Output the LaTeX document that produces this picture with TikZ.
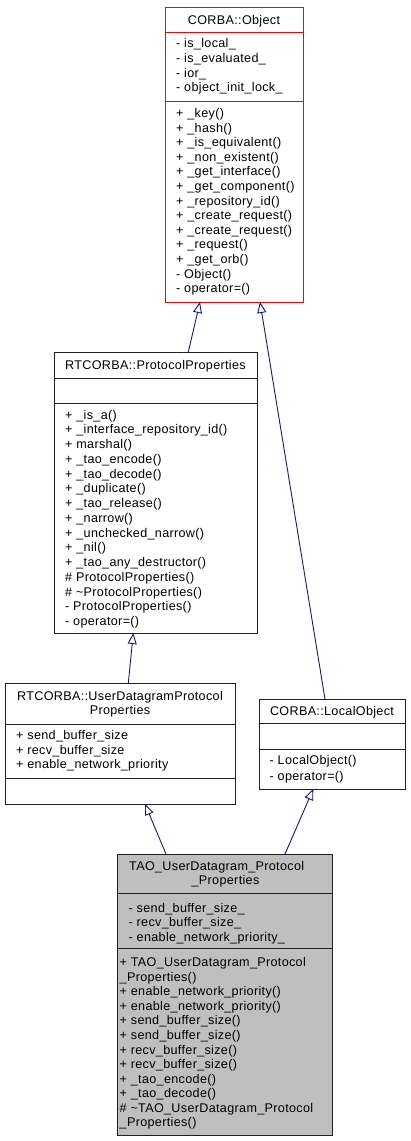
\documentclass[tikz,border=0pt]{standalone}
\usepackage{fontspec}
\setmainfont[LetterSpace=2.6]{Liberation Sans}
\usetikzlibrary{arrows.meta,calc}
\definecolor{edgeblue}{HTML}{191970}
\definecolor{taogray}{HTML}{BFBFBF}
\definecolor{boxline}{HTML}{202020}
\tikzset{
  box/.style={draw=boxline, line width=0.9pt, anchor=north west, inner sep=0pt, outer sep=0pt},
  redbox/.style={box, draw=red},
  txt/.style={anchor=base west, inner sep=0pt, font=\fontsize{12.6}{14.6}\selectfont},
  ttl/.style={anchor=base, inner sep=0pt, font=\fontsize{12.6}{14.6}\selectfont},
  sep/.style={draw=boxline, line width=0.9pt},
  inh/.style={draw=edgeblue, line width=0.9pt, -{Triangle[length=11pt,width=9pt,fill=white]}},
}
\newcommand\mylines[4]{\foreach \lbl [count=\i from 0] in {#4} {\node[txt] at (#1, #2+\i*#3) {\lbl};}}
\begin{document}
\begin{tikzpicture}[x=1pt,y=-1pt]
\fill[white] (0,0) rectangle (411,1141);
\useasboundingbox (0,0) rectangle (411,1141);

% CORBA::Object
\node[redbox, minimum width=138pt, minimum height=295pt] (obj) at (165,7) {};
\draw[sep, draw=red] (165,32) -- (303,32);
\draw[sep, draw=red] (165,101) -- (303,101);
\node[ttl] (objT) at (234,24) {CORBA::Object};
\mylines{176}{47.5}{14.8}{- is\_local\_, - is\_evaluated\_, - ior\_, - object\_init\_lock\_}
\mylines{176}{117.5}{14.6}{+ \_key(), + \_hash(), + \_is\_equivalent(), + \_non\_existent(), + \_get\_interface(), + \_get\_component(), + \_repository\_id(), + \_create\_request(), + \_create\_request(), + \_request(), + \_get\_orb(), - Object(), - operator=()}

% RTCORBA::ProtocolProperties
\node[box, minimum width=203pt, minimum height=281pt] (pp) at (54,352) {};
\draw[sep] (54,378) -- (257,378);
\draw[sep] (54,403) -- (257,403);
\node[ttl] (ppT) at (155.5,369.5) {RTCORBA::ProtocolProperties};
\mylines{65}{419}{14.75}{+ \_is\_a(), + \_interface\_repository\_id(), + marshal(), + \_tao\_encode(), + \_tao\_decode(), + \_duplicate(), + \_tao\_release(), + \_narrow(), + \_unchecked\_narrow(), + \_nil(), + \_tao\_any\_destructor(), \# ProtocolProperties(), \# \textasciitilde ProtocolProperties(), - ProtocolProperties(), - operator=()}

% RTCORBA::UserDatagramProtocolProperties
\node[box, minimum width=230pt, minimum height=121pt] (udp) at (5,683) {};
\draw[sep] (5,724) -- (235,724);
\draw[sep] (5,778.3) -- (235,778.3);
\node[ttl] (udpT1) at (120,700) {RTCORBA::UserDatagramProtocol};
\node[ttl] (udpT2) at (120,714.7) {Properties};
\mylines{16}{739.7}{14.5}{+ send\_buffer\_size, + recv\_buffer\_size, + enable\_network\_priority}

% CORBA::LocalObject
\node[box, minimum width=146pt, minimum height=90pt] (lo) at (259,699) {};
\draw[sep] (259,723.3) -- (405,723.3);
\draw[sep] (259,749) -- (405,749);
\node[ttl] (loT) at (332,715.5) {CORBA::LocalObject};
\mylines{269.5}{764}{16}{- LocalObject(), - operator=()}

% TAO_UserDatagram_Protocol_Properties
\node[box, fill=taogray, minimum width=215.4pt, minimum height=281pt] (tao) at (117.3,854) {};
\draw[sep] (117.3,893.3) -- (332.7,893.3);
\draw[sep] (117.3,948.3) -- (332.7,948.3);
\node[ttl] (taoT1) at (216.7,870) {TAO\_UserDatagram\_Protocol};
\node[ttl] (taoT2) at (225.5,884.7) {\_Properties};
\mylines{128.5}{912.3}{14.4}{- send\_buffer\_size\_, - recv\_buffer\_size\_, - enable\_network\_priority\_}
\mylines{119.5}{966.7}{14.55}{+ TAO\_UserDatagram\_Protocol, \_Properties(), + enable\_network\_priority(), + enable\_network\_priority(), + send\_buffer\_size(), + send\_buffer\_size(), + recv\_buffer\_size(), + recv\_buffer\_size(), + \_tao\_encode(), + \_tao\_decode(), \# \textasciitilde TAO\_UserDatagram\_Protocol, \_Properties()}

% inheritance connectors
\draw[inh] ([xshift=134.3pt]pp.north west) -- ([xshift=35pt]obj.south west);
\draw[inh] ([xshift=66pt]lo.north west) -- ([xshift=95pt]obj.south west);
\draw[inh] ([xshift=123.3pt]udp.north west) -- ([xshift=79.3pt]pp.south west);
\draw[inh] ([xshift=48.7pt]tao.north west) -- ([xshift=140pt]udp.south west);
\draw[inh] ([xshift=167.7pt]tao.north west) -- ([xshift=54.3pt]lo.south west);
\end{tikzpicture}
\end{document}
